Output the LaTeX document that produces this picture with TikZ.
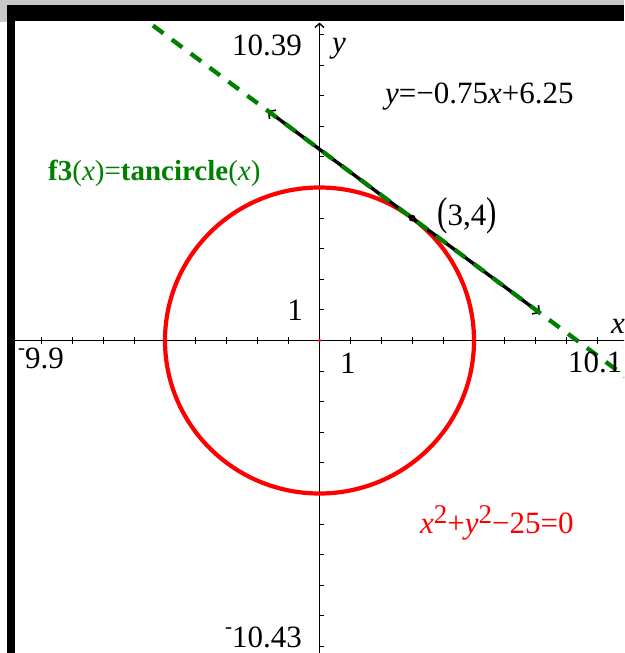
\documentclass[tikz,border=0pt]{standalone}
\usepackage{fontspec}
\setmainfont{Liberation Serif}
\usetikzlibrary{arrows.meta}
\definecolor{tigreen}{RGB}{0,128,0}
\definecolor{tired}{RGB}{255,0,0}
\definecolor{bargray}{RGB}{200,200,200}
\newcommand{\negsign}{\raisebox{0.42em}{\fontsize{21}{21}\selectfont -}}
\newcommand{\supnum}[1]{\raisebox{10pt}{\fontsize{27}{27}\selectfont #1}}
\begin{document}
\begin{tikzpicture}[x=1pt,y=-1pt,
  lbl/.style={inner sep=0pt, font=\fontsize{31}{31}\selectfont},
  axisline/.style={black, line width=1.6pt},
  tickmark/.style={black, line width=1.1pt},
  circlecurve/.style={tired, line width=4.2pt},
  tanseg/.style={black, line width=3.4pt, {Straight Barb[length=5pt,width=11pt,line width=1.6pt]}-{Straight Barb[length=5pt,width=11pt,line width=1.6pt]}},
  fdash/.style={tigreen, line width=4.3pt, dash pattern=on 13pt off 10.5pt}]
\useasboundingbox (0,0) rectangle (624,653);
\fill[white] (0,0) rectangle (624,653);
\fill[bargray] (0,0) rectangle (624,5);
\fill[bargray] (0,5) rectangle (7,22);
\fill[black] (7,5) rectangle (624,21);
\fill[black] (7,5) rectangle (15,653);
\begin{scope}
\clip (15,21) rectangle (624,653);
\begin{scope}[shift={(319.5,340.5)}, x=30.9pt, y=30.6pt]
  \coordinate (xlo) at (-9.9,0);
  \coordinate (xhi) at (10.1,0);
  \coordinate (ylo) at (0,-10.43);
  \coordinate (yhi) at (0,10.39);
  \draw[axisline, -{Straight Barb[length=4pt,width=9pt,line width=1.4pt]}] (xlo) -- (xhi);
  \draw[axisline, -{Straight Barb[length=4pt,width=9pt,line width=1.4pt]}] (ylo) -- (yhi);
  \foreach \i in {-9,...,-1,1,2,...,10}
    \draw[tickmark] (\i,0) ++(0,-3.5pt) -- ++(0,7pt);
  \foreach \j in {-10,...,-1,1,2,...,10}
    \draw[tickmark] (0,\j) ++(-0.5pt,0) -- ++(4.5pt,0);
  \coordinate (O) at (0,0);
  \draw[circlecurve] (O) circle [radius=5];
  \fill[tired] (O) circle (1.8pt);
  \coordinate (tA) at (-1.67,{-0.75*(-1.67)+6.25});
  \coordinate (tB) at (7.14,{-0.75*7.14+6.25});
  \draw[tanseg] (tA) -- (tB);
  \coordinate (gA) at (-6,{-0.75*(-6)+6.25});
  \coordinate (gB) at (10.6,{-0.75*10.6+6.25});
  \draw[fdash] (gA) -- (gB);
  \coordinate (P) at (3,4);
  \fill[black] (P) circle (3.4pt);
\end{scope}
\end{scope}
\node[lbl, anchor=base east] (ymaxlbl) at (302,55) {10.39};
\node[lbl, anchor=base west] (ylbl) at (332,52) {\textit{y}};
\node[lbl, anchor=base west] (xminlbl) at (18,368) {\negsign9.9};
\node[lbl, anchor=base west] (xmaxlbl) at (568,372) {10.1};
\node[lbl, anchor=base east] (yminlbl) at (302,647) {\negsign10.43};
\node[lbl, anchor=base east] (yonelbl) at (303,320) {1};
\node[lbl, anchor=base west] (xonelbl) at (340,373) {1};
\node[lbl, anchor=base west] (xlbl) at (611,333) {\textit{x}};
\node[lbl, anchor=base west] (tanlbl) at (385,103) {\textit{y}=−0.75\textit{x}+6.25};
\node[lbl, anchor=base west, text=tigreen, font=\fontsize{29}{29}\selectfont] (flbl) at (48,180) {\textbf{f3}(\textit{x})=\textbf{tancircle}(\textit{x})};
\node[lbl, anchor=base west, font=\fontsize{31}{31}\selectfont] (ptlbl) at (437,225) {\scalebox{1}[1.3]{(}3,4\scalebox{1}[1.3]{)}};
\node[lbl, anchor=base west, text=tired] (circlbl) at (420,533) {\textit{x}\supnum{2}+\textit{y}\supnum{2}−25=0};
\end{tikzpicture}
\end{document}
